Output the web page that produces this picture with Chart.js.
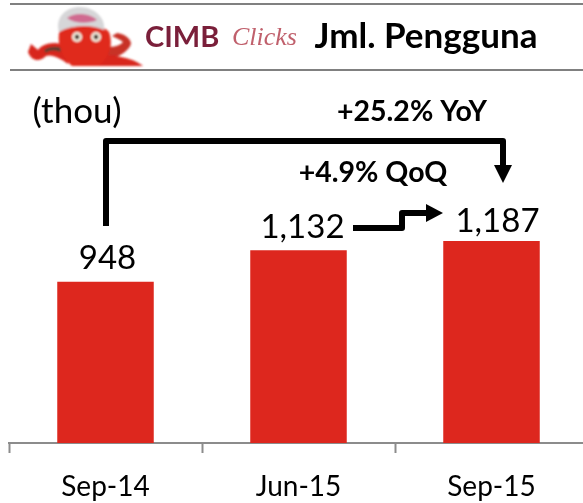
<!DOCTYPE html>
<html>
<head>
<meta charset="utf-8">
<style>
html, body { margin: 0; padding: 0; background: #fff; overflow: hidden; width: 583px; height: 503px; }
#wrap { position: absolute; left: 0; top: 0; width: 600px; height: 503px; }
#logo { position: absolute; left: 0; top: 0; }
</style>
<script src="https://cdn.jsdelivr.net/npm/chart.js@4"></script>
</head>
<body>
<div id="wrap"><canvas id="grafico" width="600" height="503"></canvas></div>
<svg id="logo" width="145" height="69" viewBox="0 0 145 69">
  <defs><filter id="blur"><feGaussianBlur stdDeviation="0.8"/></filter></defs>
  <g filter="url(#blur)">
    <path d="M68 46 C54 40 42 44 38 50 L31 44 L28 52 C32 62 40 62 46 56 C52 54 60 58 68 64 Z" fill="#d8261c"/>
    <path d="M44 50 C50 46 56 46 62 48 L60 52 C54 50 50 50 46 53 Z" fill="#5a4030"/>
    <path d="M104 46 C112 48 120 46 123 42 C121 40 116 38 112 36 L117 33 C124 34 131 38 131 44 C128 52 118 58 104 60 Z" fill="#c83028"/>
    <path d="M90 54 C110 54 132 57 143 66 L78 66 Z" fill="#d8261c"/>
    <path d="M60 28 C70 22 102 22 109 32 C114 46 108 60 98 66 L72 66 C62 58 56 44 60 28 Z" fill="#e0291c"/>
    <path d="M59 32 C55 17 66 7 80 7 C94 7 106 18 104 30 C90 24 72 25 59 32 Z" fill="#d6d6d8"/>
    <path d="M67 18 C75 12 89 13 97 20 C89 24 75 24 67 18 Z" fill="#d06a90"/>
    <circle cx="77" cy="37" r="5" fill="#f4f0e0"/><circle cx="77" cy="37" r="2.4" fill="#3a2a20"/>
    <circle cx="96" cy="37" r="5" fill="#f4f0e0"/><circle cx="96" cy="37" r="2.4" fill="#3a2a20"/>
  </g>
</svg>
<script>
// Datos
const categorias = ['Sep-14', 'Jun-15', 'Sep-15'];
const usuarios = [948, 1132, 1187];
const etiquetas = ['948', '1,132', '1,187'];
const fuente = 'Lato, Carlito, Calibri, sans-serif';

function texto(ctx, t, x, y, font, color, align) {
    ctx.font = font;
    ctx.fillStyle = color || '#000';
    ctx.textAlign = align || 'center';
    ctx.textBaseline = 'middle';
    ctx.fillText(t, x, y);
}

// Cabecera, etiquetas de valor y flechas
const anotaciones = {
    id: 'anotaciones',
    afterDatasetsDraw(chart) {
        const ctx = chart.ctx;
        const barras = chart.getDatasetMeta(0).data;
        // las etiquetas no van centradas del todo sobre la barra
        const despX = [2, 4, 6];
        const despY = [23, 23, 20];
        ctx.save();

        ctx.fillStyle = '#808080';
        ctx.fillRect(10, 3, 573, 2);
        ctx.fillRect(10, 69, 573, 2);

        texto(ctx, 'CIMB', 145, 38, 'bold 29px ' + fuente, '#7a1f3a', 'left');
        texto(ctx, 'Clicks', 232, 38, 'italic 26px "Liberation Serif", serif', '#c0606c', 'left');
        texto(ctx, 'Jml. Pengguna', 426, 37, 'bold 35px ' + fuente);
        texto(ctx, '(thou)', 77, 112, '35px ' + fuente);
        texto(ctx, '+25.2% YoY', 412, 112, 'bold 28.5px ' + fuente);
        texto(ctx, '+4.9% QoQ', 373, 173, 'bold 28.5px ' + fuente);

        barras.forEach((b, i) => {
            texto(ctx, etiquetas[i], b.x + despX[i], b.y - despY[i], '33px ' + fuente);
        });

        ctx.strokeStyle = '#000';
        ctx.fillStyle = '#000';
        ctx.lineWidth = 6;
        ctx.lineJoin = 'round';

        ctx.beginPath();
        ctx.moveTo(106, 226);
        ctx.lineTo(106, 141);
        ctx.lineTo(503, 141);
        ctx.lineTo(503, 166);
        ctx.stroke();
        ctx.beginPath();
        ctx.moveTo(494, 165);
        ctx.lineTo(512, 165);
        ctx.lineTo(503, 183);
        ctx.closePath();
        ctx.fill();

        ctx.beginPath();
        ctx.moveTo(353, 228);
        ctx.lineTo(402, 228);
        ctx.lineTo(402, 213);
        ctx.lineTo(428, 213);
        ctx.stroke();
        ctx.beginPath();
        ctx.moveTo(426, 204);
        ctx.lineTo(443, 213);
        ctx.lineTo(426, 222);
        ctx.closePath();
        ctx.fill();

        ctx.restore();
    }
};

new Chart(document.getElementById('grafico'), {
    type: 'bar',
    data: {
        labels: categorias,
        datasets: [{
            data: usuarios,
            backgroundColor: '#dd271e',
            barPercentage: 1,
            categoryPercentage: 0.5
        }]
    },
    options: {
        responsive: false,
        animation: false,
        events: [],
        layout: { padding: { left: 9, right: 12, top: 0, bottom: 0 } },
        scales: {
            x: {
                offset: true,
                grid: {
                    offset: true,
                    drawOnChartArea: false,
                    drawTicks: true,
                    tickLength: 10,
                    tickWidth: 2,
                    color: '#8c8c8c'
                },
                border: { display: true, color: '#8c8c8c', width: 2 },
                ticks: {
                    color: '#000',
                    font: { family: fuente, size: 28 },
                    padding: 17,
                    maxRotation: 0
                },
                afterFit(scale) { scale.height = 60; }
            },
            y: {
                display: false,
                min: 0,
                max: 2603
            }
        },
        plugins: {
            legend: { display: false },
            title: { display: false },
            tooltip: { enabled: false }
        }
    },
    plugins: [anotaciones]
});
</script>
</body>
</html>
